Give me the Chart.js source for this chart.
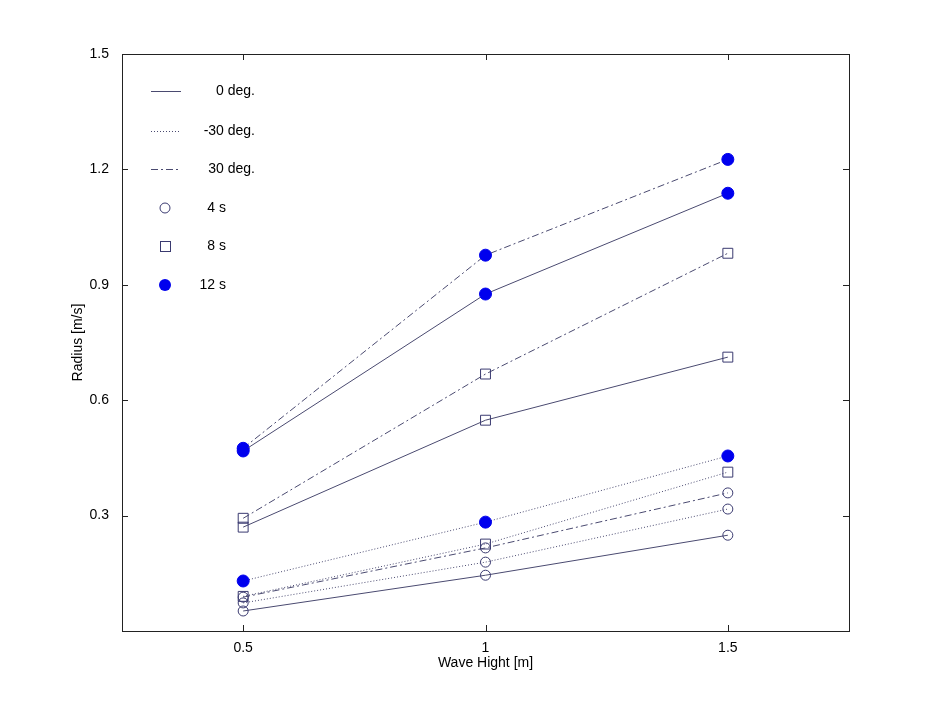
<!DOCTYPE html>
<html>
<head>
<meta charset="utf-8">
<script src="https://cdn.jsdelivr.net/npm/chart.js@4/dist/chart.umd.min.js"></script>
<style>
  html, body { margin: 0; padding: 0; background: #fff; }
  #wrap { width: 938px; height: 709px; }
</style>
</head>
<body>
<div id="wrap"><canvas id="radiusChart"></canvas></div>
<script>
// wave heights (x) and radius values
const waveHeights = [0.5, 1, 1.5];
const yTicks = [0.3, 0.6, 0.9, 1.2, 1.5];

const period4_0deg   = [0.052, 0.145, 0.249];
const period4_m30deg = [0.073, 0.179, 0.317];
const period4_30deg  = [0.088, 0.216, 0.359];
const period8_0deg   = [0.270, 0.548, 0.712];
const period8_m30deg = [0.090, 0.226, 0.413];
const period8_30deg  = [0.293, 0.668, 0.982];
const period12_0deg   = [0.468, 0.876, 1.138];
const period12_m30deg = [0.130, 0.283, 0.455];
const period12_30deg  = [0.475, 0.977, 1.226];

const lineColor = '#4a4a70';
const markerEdge = '#3a3a70';
const markerBlue = '#0000ee';

const dashes = { solid: [], dotted: [1, 2], dashdot: [7, 3, 2, 3] };

function series(values, dash, marker) {
    let ds = {
        data: values.map((v, i) => ({ x: waveHeights[i], y: v })),
        showLine: true,
        borderColor: lineColor,
        borderWidth: 1,
        borderDash: dashes[dash],
        pointBorderWidth: 1,
        pointHoverRadius: 5
    };
    if (marker === 'circle') {
        ds.pointStyle = 'circle';
        ds.pointRadius = 5;
        ds.pointBackgroundColor = 'rgba(255,255,255,0)';
        ds.pointBorderColor = markerEdge;
    } else if (marker === 'square') {
        ds.pointStyle = 'rect';
        ds.pointRadius = 7;
        ds.pointBackgroundColor = 'rgba(255,255,255,0)';
        ds.pointBorderColor = markerEdge;
    } else {
        ds.pointStyle = 'circle';
        ds.pointRadius = 6;
        ds.pointBackgroundColor = markerBlue;
        ds.pointBorderColor = markerBlue;
    }
    return ds;
}

// MATLAB-style inside ticks, box, axis titles and legend
const boxPlugin = {
    id: 'boxPlugin',
    afterDraw(chart) {
        let ctx = chart.ctx;
        let a = chart.chartArea;
        let xs = chart.scales.x, ys = chart.scales.y;
        ctx.save();
        ctx.strokeStyle = '#222';
        ctx.lineWidth = 1;
        ctx.setLineDash([]);
        ctx.strokeRect(Math.round(a.left) + 0.5, Math.round(a.top) + 0.5,
            Math.round(a.right - a.left), Math.round(a.bottom - a.top));
        ctx.beginPath();
        waveHeights.forEach(function(v) {
            let px = Math.round(xs.getPixelForValue(v)) + 0.5;
            ctx.moveTo(px, a.bottom); ctx.lineTo(px, a.bottom - 6);
            ctx.moveTo(px, a.top); ctx.lineTo(px, a.top + 6);
        });
        yTicks.forEach(function(v) {
            let py = Math.round(ys.getPixelForValue(v)) + 0.5;
            ctx.moveTo(a.left, py); ctx.lineTo(a.left + 6, py);
            ctx.moveTo(a.right, py); ctx.lineTo(a.right - 6, py);
        });
        ctx.stroke();

        ctx.font = '14px "Liberation Sans", Arial, sans-serif';
        ctx.fillStyle = '#000';
        ctx.textBaseline = 'middle';

        // axis titles
        ctx.textAlign = 'center';
        ctx.fillText('Wave Hight [m]', (a.left + a.right) / 2, 663);
        ctx.save();
        ctx.translate(78, (a.top + a.bottom) / 2);
        ctx.rotate(-Math.PI / 2);
        ctx.fillText('Radius [m/s]', 0, 0);
        ctx.restore();

        // legend
        ctx.textAlign = 'right';
        let lineItems = [['0 deg.', 'solid', 91], ['-30 deg.', 'dotted', 131], ['30 deg.', 'dashdot', 169]];
        lineItems.forEach(function(it) {
            ctx.strokeStyle = lineColor;
            ctx.setLineDash(dashes[it[1]]);
            ctx.beginPath();
            ctx.moveTo(151, it[2] + 0.5); ctx.lineTo(181, it[2] + 0.5);
            ctx.stroke();
            ctx.fillText(it[0], 255, it[2]);
        });
        ctx.setLineDash([]);
        let markItems = [['4 s', 'circle', 208], ['8 s', 'square', 246], ['12 s', 'filled', 285]];
        markItems.forEach(function(it) {
            ctx.beginPath();
            if (it[1] === 'circle') {
                ctx.strokeStyle = markerEdge;
                ctx.arc(165, it[2], 5, 0, Math.PI * 2);
                ctx.stroke();
            } else if (it[1] === 'square') {
                ctx.strokeStyle = markerEdge;
                ctx.strokeRect(160.5, it[2] - 4.5, 10, 10);
            } else {
                ctx.fillStyle = markerBlue;
                ctx.arc(165, it[2], 6, 0, Math.PI * 2);
                ctx.fill();
            }
            ctx.fillStyle = '#000';
            ctx.fillText(it[0], 226, it[2]);
        });
        ctx.restore();
    }
};

document.addEventListener('DOMContentLoaded', function() {
    let ctx = document.getElementById('radiusChart').getContext('2d');
    Chart.defaults.font.family = '"Liberation Sans", Arial, sans-serif';
    Chart.defaults.font.size = 14;
    Chart.defaults.color = '#000';
    new Chart(ctx, {
        type: 'scatter',
        data: {
            datasets: [
                series(period4_0deg, 'solid', 'circle'),
                series(period4_m30deg, 'dotted', 'circle'),
                series(period4_30deg, 'dashdot', 'circle'),
                series(period8_0deg, 'solid', 'square'),
                series(period8_m30deg, 'dotted', 'square'),
                series(period8_30deg, 'dashdot', 'square'),
                series(period12_0deg, 'solid', 'filled'),
                series(period12_m30deg, 'dotted', 'filled'),
                series(period12_30deg, 'dashdot', 'filled')
            ]
        },
        options: {
            responsive: true,
            maintainAspectRatio: false,
            animation: false,
            layout: { padding: { left: 0, right: 89, top: 54, bottom: 0 } },
            plugins: {
                legend: { display: false },
                tooltip: { enabled: false }
            },
            scales: {
                x: {
                    type: 'linear',
                    min: 0.25,
                    max: 1.75,
                    afterBuildTicks: function(axis) {
                        axis.ticks = waveHeights.map(v => ({ value: v }));
                    },
                    afterFit: function(axis) { axis.height = 78; },
                    grid: { display: false, drawTicks: false },
                    border: { display: false },
                    ticks: { padding: 9, callback: v => String(v) }
                },
                y: {
                    type: 'linear',
                    min: 0,
                    max: 1.5,
                    afterBuildTicks: function(axis) {
                        axis.ticks = yTicks.map(v => ({ value: v }));
                    },
                    afterFit: function(axis) { axis.width = 122; },
                    grid: { display: false, drawTicks: false },
                    border: { display: false },
                    ticks: { padding: 13, callback: v => String(v) }
                }
            }
        },
        plugins: [boxPlugin]
    });
});
</script>
</body>
</html>
